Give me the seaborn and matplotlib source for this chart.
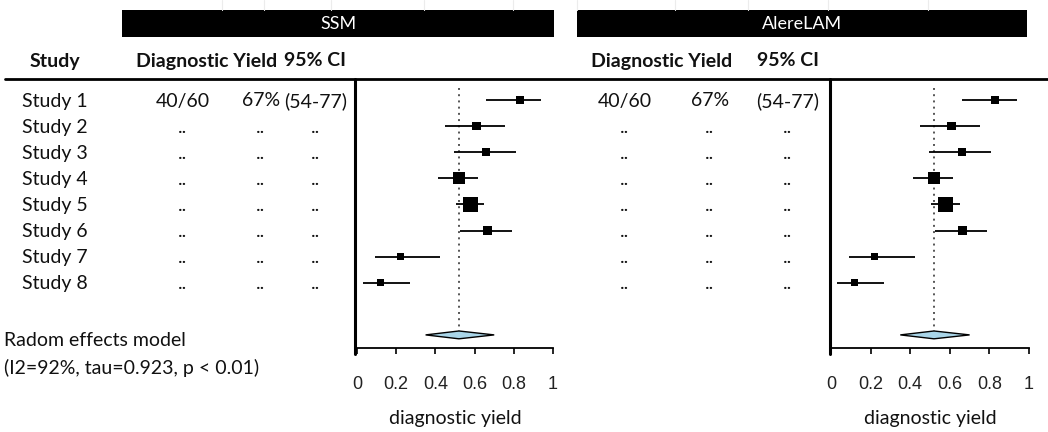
import numpy as np
import pandas as pd
import seaborn as sns
import matplotlib
matplotlib.use("Agg")
import matplotlib.pyplot as plt
from matplotlib.patches import Rectangle, Polygon

# ---------------- data ----------------
studies = ["Study 1", "Study 2", "Study 3", "Study 4", "Study 5", "Study 6", "Study 7", "Study 8"]
counts = ["40/60", "..", "..", "..", "..", "..", "..", ".."]
percents = ["67%", "..", "..", "..", "..", "..", "..", ".."]
cis = ["(54-77)", "..", "..", "..", "..", "..", "..", ".."]

ssm_est = [0.83, 0.61, 0.66, 0.52, 0.58, 0.665, 0.22, 0.12]
ssm_lo = [0.66, 0.45, 0.495, 0.415, 0.505, 0.525, 0.09, 0.03]
ssm_hi = [0.94, 0.755, 0.81, 0.615, 0.65, 0.79, 0.425, 0.27]
ssm_weight = [49, 64, 49, 121, 196, 64, 42, 42]
ssm_pooled = [0.35, 0.52, 0.70]  # lower, estimate, upper

alere_est = [0.83, 0.61, 0.66, 0.52, 0.58, 0.665, 0.22, 0.12]
alere_lo = [0.66, 0.45, 0.495, 0.415, 0.505, 0.525, 0.09, 0.03]
alere_hi = [0.94, 0.755, 0.81, 0.615, 0.65, 0.79, 0.425, 0.27]
alere_weight = [49, 64, 49, 121, 196, 64, 42, 42]
alere_pooled = [0.35, 0.52, 0.70]

xticks = [0, 0.2, 0.4, 0.6, 0.8, 1]
xticklabels = ["0", "0.2", "0.4", "0.6", "0.8", "1"]

# ---------------- style ----------------
sns.set_theme(style="white")
plt.rcParams["font.family"] = ["Lato", "DejaVu Sans"]

W, H = 1048, 432
fig = plt.figure(figsize=(W / 100, H / 100), dpi=100)
bg = fig.add_axes([0, 0, 1, 1])
bg.set_xlim(0, W)
bg.set_ylim(H, 0)
bg.axis("off")

ROW0_PX = 100.0
ROW_STEP = 26.1
AX_TOP, AX_BOT = 80, 348
POOLED_ROW = 10
FS = 14


def row_px(r):
    return ROW0_PX + (r - 1) * ROW_STEP


ylim = ((AX_BOT - ROW0_PX) / ROW_STEP + 1, (AX_TOP - ROW0_PX) / ROW_STEP + 1)


def forest(x0, x1, est, lo, hi, weight, pooled):
    ax = fig.add_axes([x0 / W, 1 - AX_BOT / H, (x1 - x0) / W, (AX_BOT - AX_TOP) / H])
    ax.patch.set_alpha(0)
    df = pd.DataFrame({"row": np.arange(1, len(est) + 1), "est": est, "lo": lo,
                       "hi": hi, "w": weight})
    ax.hlines(df["row"], df["lo"], df["hi"], color="black", lw=1.3, zorder=2)
    sns.scatterplot(data=df, x="est", y="row", size="w", sizes=(27, 118),
                    size_norm=(min(weight), max(weight)), marker="s", color="black",
                    edgecolor="black", linewidth=0, legend=False, ax=ax, zorder=3)
    plo, pest, phi = pooled
    ax.vlines(pest, 0.55, POOLED_ROW + 0.2, colors="#555555", linestyles=(0, (1, 2.2)),
              lw=1.4, zorder=1)
    hh = 0.15
    ax.add_patch(Polygon([[plo, POOLED_ROW], [pest, POOLED_ROW - hh], [phi, POOLED_ROW],
                          [pest, POOLED_ROW + hh]], closed=True, facecolor="#a9d5e8",
                         edgecolor="black", lw=1.0, zorder=4))
    ax.set_xlim(0, 1)
    ax.set_ylim(*ylim)
    for s in ["top", "right", "left"]:
        ax.spines[s].set_visible(False)
    ax.spines["bottom"].set_color("black")
    ax.spines["bottom"].set_linewidth(1.3)
    ax.spines["bottom"].set_bounds(0, 1)
    ax.set_yticks([])
    ax.set_xticks(xticks)
    ax.set_xticklabels(xticklabels, fontfamily="Liberation Sans", fontsize=13, color="#222222")
    ax.tick_params(axis="x", direction="out", length=4.5, width=1.2, color="black",
                   pad=16, bottom=True)
    ax.set_xlabel("diagnostic yield", fontsize=FS, labelpad=12, color="#111111")
    ax.set_ylabel("")
    return ax


forest(357, 553, ssm_est, ssm_lo, ssm_hi, ssm_weight, ssm_pooled)
forest(831, 1029, alere_est, alere_lo, alere_hi, alere_weight, alere_pooled)

# faint spreadsheet gridlines at top
for gx in [222, 264, 331, 424, 513, 577, 675, 748, 828, 928]:
    bg.plot([gx, gx], [0, 10], color="#ececec", lw=0.8)

# header bars
bg.add_patch(Rectangle((122, 10), 432, 27, facecolor="black", edgecolor="none"))
bg.add_patch(Rectangle((577, 10), 450, 27, facecolor="black", edgecolor="none"))
bg.text(338, 24, "SSM", color="white", ha="center", va="center", fontsize=13)
bg.text(802, 24, "AlereLAM", color="white", ha="center", va="center", fontsize=13)

# column headers
hdr = dict(ha="center", va="center", fontsize=FS, fontweight="bold", color="#111111")
bg.text(55, 61, "Study", **hdr)
bg.text(207, 61, "Diagnostic Yield", **hdr)
bg.text(315, 61, "95% CI", **hdr)
bg.text(662, 61, "Diagnostic Yield", **hdr)
bg.text(788, 61, "95% CI", **hdr)

# rules
bg.plot([5, W], [79, 79], color="black", lw=2)
bg.plot([355, 355], [79, 354], color="black", lw=2.2)
bg.plot([830, 830], [79, 354], color="black", lw=2.2)

# table body
cell = dict(ha="center", va="center", fontsize=FS, color="#111111")
for i, name in enumerate(studies):
    y = row_px(i + 1) + 1
    bg.text(22, y, name, ha="left", va="center", fontsize=FS, color="#111111")
    bg.text(183, y, counts[i], **cell)
    bg.text(261, y, percents[i], **cell)
    bg.text(316, y, cis[i], **cell)
    bg.text(625, y, counts[i], **cell)
    bg.text(710, y, percents[i], **cell)
    bg.text(788, y, cis[i], **cell)

bg.text(4, 341, "Radom effects model", ha="left", va="center", fontsize=FS, color="#111111")
bg.text(4, 368, "(I2=92%, tau=0.923, p < 0.01)", ha="left", va="center", fontsize=FS,
        color="#111111")

fig.savefig("out.png", dpi=100)
